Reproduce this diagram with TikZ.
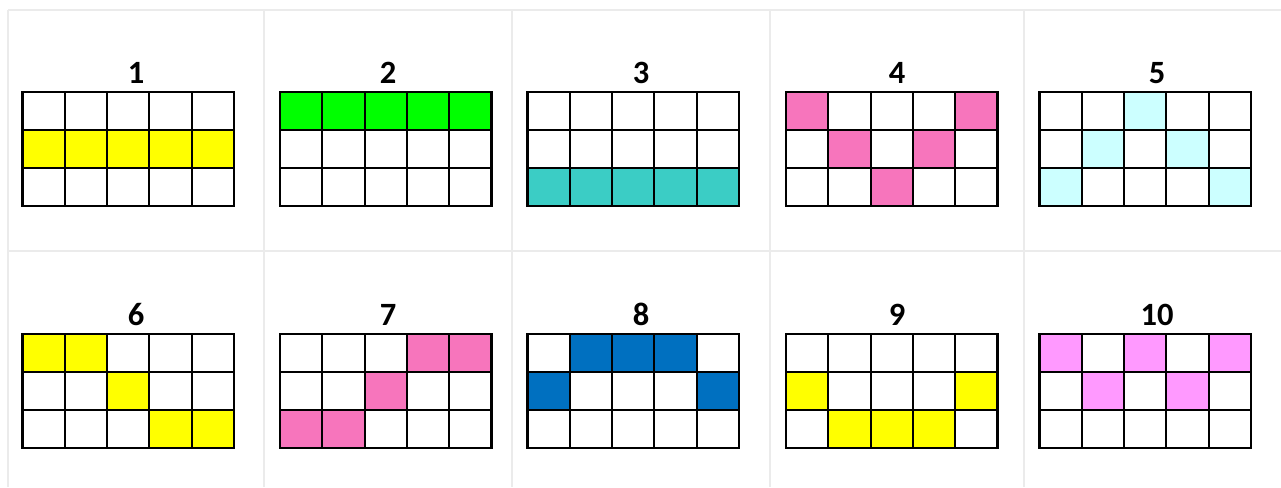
\documentclass[tikz,border=0pt]{standalone}
\usepackage{fontspec}
\setmainfont{Carlito}
\usepackage{tikz}
\usetikzlibrary{positioning}
\definecolor{paneline}{HTML}{EBEBEB}
\definecolor{lemon}{HTML}{FFFF00}
\definecolor{lime}{HTML}{00FF00}
\definecolor{aqua}{HTML}{3BCDC5}
\definecolor{rose}{HTML}{F775BC}
\definecolor{ice}{HTML}{CCFFFF}
\definecolor{royal}{HTML}{0070C0}
\definecolor{orchid}{HTML}{FF99FF}

% one numbered 5x3 board: left, top, number, colour, filled cells (col/row), number x
\newcommand{\board}[6]{%
  \foreach \c/\r in {#5}
    \fill[#4] ({#1+\c*42.3},{#2+\r*38}) rectangle ++(42.3,38);
  \foreach \i in {0,...,5}
    \draw[cellline] ({#1+\i*42.3},#2) -- ({#1+\i*42.3},{#2+114});
  \foreach \j in {0,...,3}
    \draw[cellline] (#1,{#2+\j*38}) -- ({#1+211.5},{#2+\j*38});
  \node[numtext] (n#3) at (#6,{#2-9}) {#3};
}

\begin{document}
\begin{tikzpicture}[x=0.02cm, y=-0.02cm,
    cellline/.style={line width=1.2pt, line cap=rect},
    numtext/.style={anchor=base, inner sep=0pt, font=\fontsize{18.5}{20}\selectfont\bfseries}]
  \useasboundingbox (0,0) rectangle (1281,487);

  % light table lines
  \begin{scope}[paneline, line width=1pt]
    \draw (8,10) -- (1281,10) (8,251) -- (1281,251);
    \foreach \x in {8,264,512,770,1024}
      \draw (\x,10) -- (\x,487);
  \end{scope}

  % top row
  \board{22.5}{92}{1}{lemon}{0/1,1/1,2/1,3/1,4/1}{136}
  \board{280}{92}{2}{lime}{0/0,1/0,2/0,3/0,4/0}{388}
  \board{527.5}{92}{3}{aqua}{0/2,1/2,2/2,3/2,4/2}{641}
  \board{786}{92}{4}{rose}{0/0,4/0,1/1,3/1,2/2}{897}
  \board{1039.5}{92}{5}{ice}{2/0,1/1,3/1,0/2,4/2}{1157}

  % bottom row
  \board{22.5}{334}{6}{lemon}{0/0,1/0,2/1,3/2,4/2}{136}
  \board{280}{334}{7}{rose}{3/0,4/0,2/1,0/2,1/2}{388}
  \board{527.5}{334}{8}{royal}{1/0,2/0,3/0,0/1,4/1}{641}
  \board{786}{334}{9}{lemon}{0/1,4/1,1/2,2/2,3/2}{897}
  \board{1039.5}{334}{10}{orchid}{0/0,2/0,4/0,1/1,3/1}{1157}
\end{tikzpicture}
\end{document}
